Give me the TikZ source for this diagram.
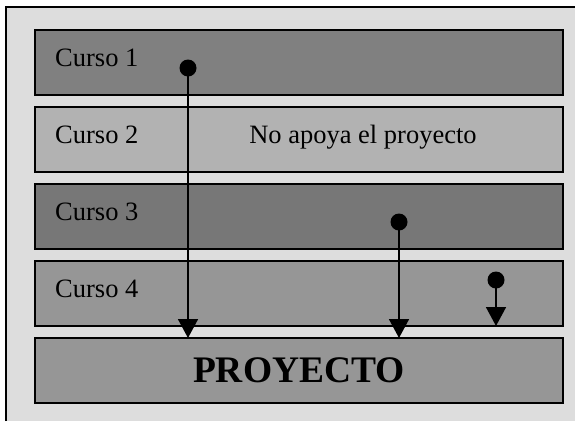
\documentclass[tikz,border=0pt]{standalone}
\usepackage{fontspec}
\setmainfont{Liberation Serif}
\usetikzlibrary{positioning,arrows.meta}

\definecolor{fondo}{HTML}{DDDDDD}
\definecolor{gris1}{HTML}{808080}
\definecolor{gris2}{HTML}{B2B2B2}
\definecolor{gris3}{HTML}{777777}
\definecolor{gris4}{HTML}{969696}

\begin{document}
\begin{tikzpicture}[x=1pt,y=-1pt,node distance=12pt,
curso/.style={draw,line width=1.6pt,minimum width=528pt,minimum height=65pt,inner sep=0pt,outer sep=0pt},
etiqueta/.style={anchor=base west,font=\fontsize{26.5}{30}\selectfont,inner sep=0pt},
punto/.style={circle,fill=black,minimum size=17pt,inner sep=0pt}
]

\tikzstyle{flecha} = [line width=1.6pt,-{Triangle[width=20pt,length=19pt]}]

  \useasboundingbox (0,0) rectangle (575,421);
  \fill[fondo] (6,7) rectangle (575,421);
  \draw[line width=1.6pt] (6,421) -- (6,7) -- (575,7);

  \node (curso1)   [curso,fill=gris1] at (299,62.5)     {};
  \node (curso2)   [curso,fill=gris2,below=of curso1] {};
  \node (curso3)   [curso,fill=gris3,below=of curso2] {};
  \node (curso4)   [curso,fill=gris4,below=of curso3] {};
  \node (proyecto) [curso,fill=gris4,below=of curso4,font=\fontsize{37.5}{40}\selectfont\bfseries] {PROYECTO};

  \node (lbl1) [etiqueta] at ([xshift=20pt,yshift=-36pt]curso1.north west) {Curso 1};
  \node (lbl2) [etiqueta] at ([xshift=20pt,yshift=-36pt]curso2.north west) {Curso 2};
  \node (lbl3) [etiqueta] at ([xshift=20pt,yshift=-36pt]curso3.north west) {Curso 3};
  \node (lbl4) [etiqueta] at ([xshift=20pt,yshift=-36pt]curso4.north west) {Curso 4};
  \node (noapoya) [etiqueta,anchor=base] at ([xshift=64pt,yshift=-36pt]curso2.north) {No apoya el proyecto};

  \node (punto1) [punto] at (188,68)  {};
  \node (punto2) [punto] at (399,222) {};
  \node (punto3) [punto] at (496,280) {};

\draw[flecha] (punto1.center) -- (punto1.center |- proyecto.north);
\draw[flecha] (punto2.center) -- (punto2.center |- proyecto.north);
\draw[flecha] (punto3.center) -- (punto3.center |- curso4.south);

\end{tikzpicture}
\end{document}
